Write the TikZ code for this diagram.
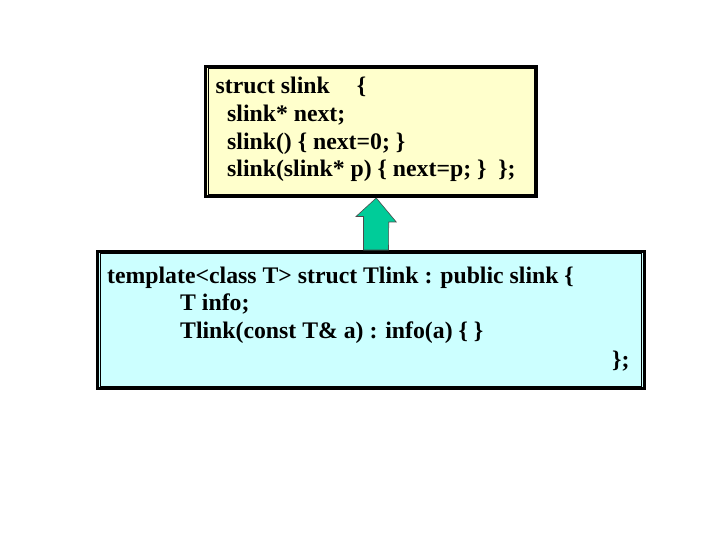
\documentclass[tikz,border=0pt]{standalone}
\usepackage{fontspec}
\setmainfont{Liberation Serif}
\usepackage{tikz}
\usetikzlibrary{calc,positioning}
\definecolor{boxyellow}{RGB}{255,255,204}
\definecolor{boxcyan}{RGB}{204,255,255}
\definecolor{arrowgreen}{RGB}{0,204,153}
\tikzset{
  klasse/.style={rectangle,draw=black,line width=3pt,inner sep=0pt},
  innen/.style={draw=black,line width=1pt},
  zeile/.style={anchor=base west,inner sep=0pt,font=\bfseries\fontsize{23.75}{28}\selectfont},
  erbt/.style={fill=arrowgreen,draw=black!70,line width=0.6pt,line join=miter}
}
\begin{document}
\begin{tikzpicture}[x=1pt,y=-1pt]
\useasboundingbox (0,0) rectangle (720,540);
% base class
\node[klasse,fill=boxyellow,minimum width=330.5pt,minimum height=130pt] (slinkbox) at (370.75,131.5) {};
\draw[innen] ([shift={(4.5,3.5)}]slinkbox.north west) rectangle ([shift={(-3.5,-3.5)}]slinkbox.south east);
\node[zeile] (s1) at (215.5,94) {struct slink\hspace{27pt}\{};
\node[zeile] (s2) at (227,122) {slink* next;};
\node[zeile] (s3) at (227,149.5) {slink() \{ next=0; \}};
\node[zeile] (s4) at (227,177) {slink(slink* p) \{ next=p; \}\ \ \};};
% derived class
\node[klasse,fill=boxcyan,minimum width=547pt,minimum height=137pt] (tlinkbox) at (370.5,320) {};
\draw[innen] ([shift={(4.5,3.5)}]tlinkbox.north west) rectangle ([shift={(-4,-3.5)}]tlinkbox.south east);
\node[zeile] (t1) at (107,283) {template<class T> struct Tlink : public slink \{};
\node[zeile] (t2) at (180,310.5) {T info;};
\node[zeile] (t3) at (180,338) {Tlink(const T\& a) : info(a) \{ \}};
\node[zeile] (t4) at (612,367) {\};};
% inheritance arrow
\coordinate (spitze) at ([xshift=5.5pt]slinkbox.south);
\draw[erbt] (spitze) -- ++(20,24) -- ++(-7.5,0) -- ($(tlinkbox.north)+(18,0)$) -- ++(-25,0) -- ++(0,-33.5) -- ++(-7.5,0) -- cycle;
\end{tikzpicture}
\end{document}
